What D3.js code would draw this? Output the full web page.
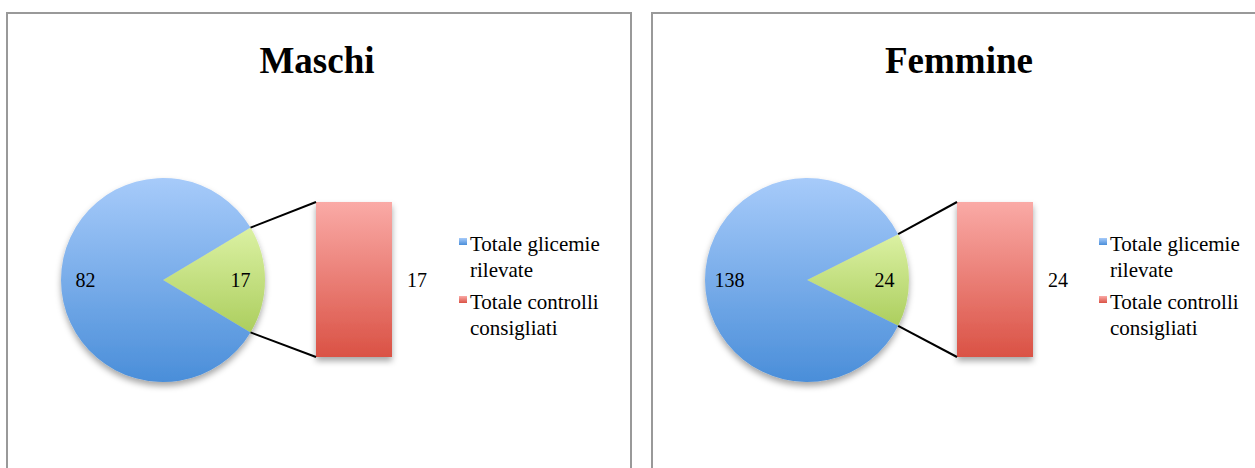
<!DOCTYPE html>
<html>
<head>
<meta charset="utf-8">
<script src="https://cdn.jsdelivr.net/npm/d3@7"></script>
<style>
  html, body { margin: 0; padding: 0; background: #fff; }
  text { font-family: "Liberation Serif", "Times New Roman", serif; fill: #000; }
</style>
</head>
<body>
<div id="chart"></div>
<script>
// values
var titles = ['Maschi', 'Femmine'];
var glicemieRilevate = [82, 138];
var controlliConsigliati = [17, 24];
var legendLabels = [['Totale glicemie', 'rilevate'], ['Totale controlli', 'consigliati']];

var W = 1255, H = 468;
var panelX = [7, 652], panelY = 13, panelW = 624, panelH = 470;
var radius = 102, pieCx = 156, pieCy = 267;
var barW = 76, barTop = 189, barBottom = 344;

var svg = d3.select('#chart').append('svg').attr('width', W).attr('height', H);
var defs = svg.append('defs');

function vgrad(id, top, bottom) {
  var g = defs.append('linearGradient').attr('id', id)
    .attr('x1', 0).attr('y1', 0).attr('x2', 0).attr('y2', 1);
  g.append('stop').attr('offset', '0%').attr('stop-color', top);
  g.append('stop').attr('offset', '100%').attr('stop-color', bottom);
}
vgrad('gBlue', '#a7cbfa', '#4a8ed9');
vgrad('gGreen', '#dbf1a3', '#acce5e');
vgrad('gRed', '#faaaa6', '#da5245');

var shadow = defs.append('filter').attr('id', 'shadow')
  .attr('x', '-20%').attr('y', '-20%').attr('width', '140%').attr('height', '150%');
shadow.append('feDropShadow').attr('dx', 0).attr('dy', 4).attr('stdDeviation', 3)
  .attr('flood-color', '#000').attr('flood-opacity', 0.35);

titles.forEach(function (title, i) {
  var g = svg.append('g').attr('transform', 'translate(' + panelX[i] + ',' + panelY + ')');
  var barX = 309 - i * 4;
  var cx = pieCx - i;

  g.append('rect').attr('width', panelW).attr('height', panelH)
    .attr('fill', '#fff').attr('stroke', '#999').attr('stroke-width', 2);

  g.append('text').attr('x', 310 - i * 3).attr('y', 60)
    .attr('text-anchor', 'middle').style('font-size', '37px').style('font-weight', 'bold')
    .text(title);

  // pie with the small slice centred on the right
  var vals = [controlliConsigliati[i], glicemieRilevate[i]];
  var total = d3.sum(vals);
  var theta = 2 * Math.PI * vals[0] / total;
  var start = Math.PI / 2 - theta / 2;
  var pie = d3.pie().sort(null).startAngle(start).endAngle(start + 2 * Math.PI);
  var arcs = pie(vals);
  var arc = d3.arc().innerRadius(0).outerRadius(radius);
  var labelArc = d3.arc().innerRadius(radius * 0.76).outerRadius(radius * 0.76);

  var pg = g.append('g').attr('transform', 'translate(' + cx + ',' + pieCy + ')');
  var fills = ['url(#gGreen)', 'url(#gBlue)'];
  pg.append('g').attr('filter', 'url(#shadow)').selectAll('path').data(arcs).enter()
    .append('path').attr('d', arc).attr('fill', function (d, j) { return fills[j]; });

  pg.selectAll('text.lbl').data(arcs).enter().append('text').attr('class', 'lbl')
    .attr('x', function (d) { return labelArc.centroid(d)[0]; })
    .attr('y', function (d) { return labelArc.centroid(d)[1] + 7; })
    .attr('text-anchor', 'middle').style('font-size', '20px')
    .text(function (d) { return d.data; });

  // stacked bar for the broken-out slice
  var y = d3.scaleLinear().domain([0, controlliConsigliati[i]]).range([barBottom, barTop]);
  g.append('rect').attr('x', barX).attr('y', y(controlliConsigliati[i]))
    .attr('width', barW).attr('height', y(0) - y(controlliConsigliati[i]))
    .attr('fill', 'url(#gRed)').attr('filter', 'url(#shadow)');
  g.append('text').attr('x', barX + barW + 25).attr('y', (barTop + barBottom) / 2 + 7)
    .attr('text-anchor', 'middle').style('font-size', '20px')
    .text(controlliConsigliati[i]);

  // connector lines
  var p1 = [cx + radius * Math.sin(arcs[0].startAngle), pieCy - radius * Math.cos(arcs[0].startAngle)];
  var p2 = [cx + radius * Math.sin(arcs[0].endAngle), pieCy - radius * Math.cos(arcs[0].endAngle)];
  g.append('line').attr('x1', p1[0]).attr('y1', p1[1]).attr('x2', barX).attr('y2', y(controlliConsigliati[i]))
    .attr('stroke', '#000').attr('stroke-width', 2);
  g.append('line').attr('x1', p2[0]).attr('y1', p2[1]).attr('x2', barX).attr('y2', y(0))
    .attr('stroke', '#000').attr('stroke-width', 2);

  // legend
  var lg = g.append('g').attr('transform', 'translate(' + (452 - i * 5) + ',0)');
  var legFills = ['url(#gBlue)', 'url(#gRed)'];
  legendLabels.forEach(function (lines, k) {
    var top = 225 + k * 58;
    lg.append('rect').attr('x', 0).attr('y', top).attr('width', 8).attr('height', 7)
      .attr('fill', legFills[k]);
    var t = lg.append('text').attr('x', 11).attr('y', top + 13).style('font-size', '21px');
    lines.forEach(function (s, m) {
      t.append('tspan').attr('x', 11).attr('dy', m === 0 ? 0 : 26).text(s);
    });
  });
});
</script>
</body>
</html>
